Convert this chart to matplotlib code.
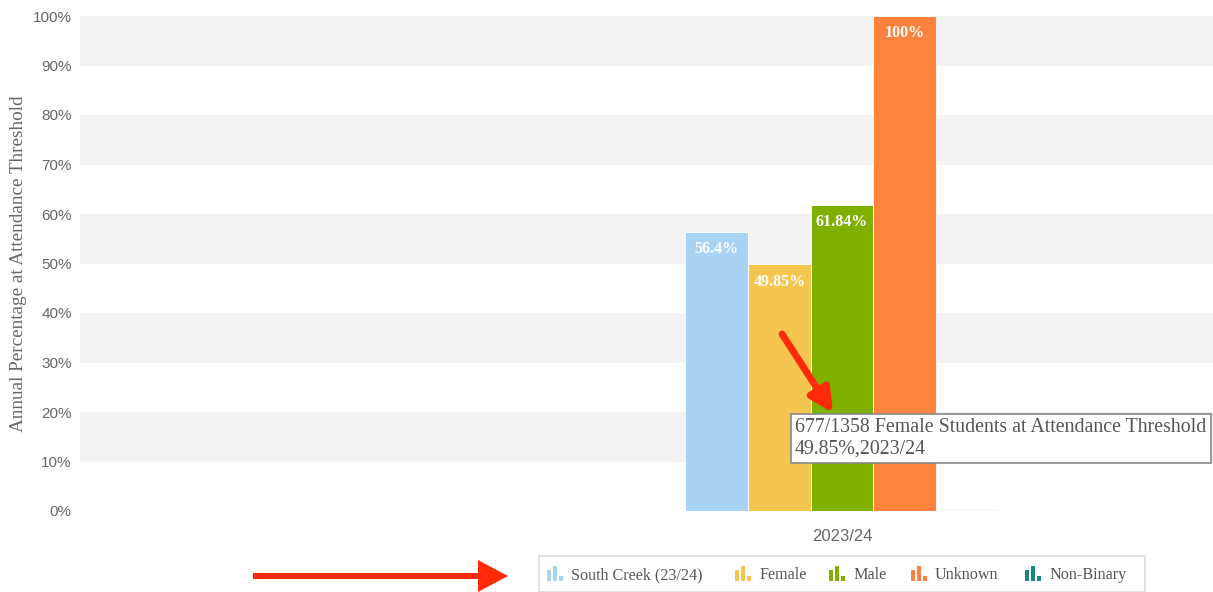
import matplotlib
matplotlib.use('Agg')
import matplotlib.pyplot as plt
from matplotlib.patches import Rectangle, FancyArrow

plt.rcParams['font.family'] = ['Liberation Serif', 'DejaVu Serif']

# data
category = '2023/24'
series = ['South Creek (23/24)', 'Female', 'Male', 'Unknown', 'Non-Binary']
values = [56.4, 49.85, 61.84, 100, 0.3]
labels = ['56.4%', '49.85%', '61.84%', '100%', '']
colors = ['#a8d3f5', '#f5c64f', '#7fb000', '#fe843e', '#17878a']
yticks = [0, 10, 20, 30, 40, 50, 60, 70, 80, 90, 100]

W, H = 1213, 592
fig = plt.figure(figsize=(W / 100, H / 100), dpi=100)
ax = fig.add_axes([80 / W, (H - 511) / H, (1213 - 80) / W, (511 - 16) / H])

# alternating bands
for lo in range(10, 100, 20):
    ax.axhspan(lo, lo + 10, color='#f3f3f3', lw=0, zorder=0)

offsets = [-2, -1, 0, 1, 2]
for off, v, lab, c in zip(offsets, values, labels, colors):
    ax.bar(off, v, width=1.0, color=c, edgecolor='white', linewidth=0.6, zorder=2)
    if lab:
        ax.text(off, v - 3.5, lab, ha='center', va='center', color='white',
                fontsize=11.5, fontweight='bold', zorder=3)

ax.set_xlim((80 - 842) / 62.6, (1213 - 842) / 62.6)
ax.set_ylim(0, 100)
ax.set_yticks(yticks)
ax.set_yticklabels([f'{t}%' for t in yticks], family='Liberation Sans')
ax.set_xticks([0])
ax.set_xticklabels([category], family='Liberation Sans')
ax.tick_params(axis='both', length=0, colors='#666666')
ax.tick_params(axis='y', labelsize=11, pad=6)
ax.tick_params(axis='x', labelsize=12, pad=13)
for s in ax.spines.values():
    s.set_visible(False)
ax.set_ylabel('Annual Percentage at Attendance Threshold', fontsize=13.8,
              color='#666666')
ax.yaxis.set_label_coords(-(80 - 27) / (1213 - 80), 0.5)

# tooltip
ax.text(-0.75, 18.8, '677/1358 Female Students at Attendance Threshold\n49.85%,2023/24',
        ha='left', va='top', fontsize=14.3, color='#555555', linespacing=1.2,
        zorder=5,
        bbox=dict(boxstyle='square,pad=0.22', fc='white', ec='#888888', lw=1.2))

# legend box
fig.add_artist(Rectangle((539 / W, 0), (1145 - 539) / W, (592 - 556) / H,
                         transform=fig.transFigure, fc='white', ec='#dddddd', lw=1.2))
leg_x = [546, 734, 828, 910, 1024]
for x0, name, c in zip(leg_x, series, colors):
    for i, hgt in enumerate([11, 15, 5]):
        fig.add_artist(Rectangle(((x0 + 1 + i * 6) / W, (592 - 581) / H), 4 / W, hgt / H,
                                 transform=fig.transFigure, fc=c, ec='none'))
    fig.text((x0 + 25) / W, (592 - 575) / H, name, ha='left', va='center',
             fontsize=11.6, color='#555555')

# red arrows
fig.add_artist(FancyArrow(253 / W, (592 - 576) / H, (478 - 253) / W, 0,
                          width=6 / H, head_width=32 / H, head_length=30 / W,
                          transform=fig.transFigure, color='#fe2a0a', lw=0))
ax.annotate('', xy=(833, 592 - 413), xytext=(782, 592 - 334),
            xycoords='figure pixels', textcoords='figure pixels',
            arrowprops=dict(arrowstyle='-|>,head_length=1.4,head_width=0.7',
                            color='#fe2a0a', lw=5, shrinkA=0, shrinkB=0),
            zorder=6)

fig.savefig('out.png', dpi=100)
